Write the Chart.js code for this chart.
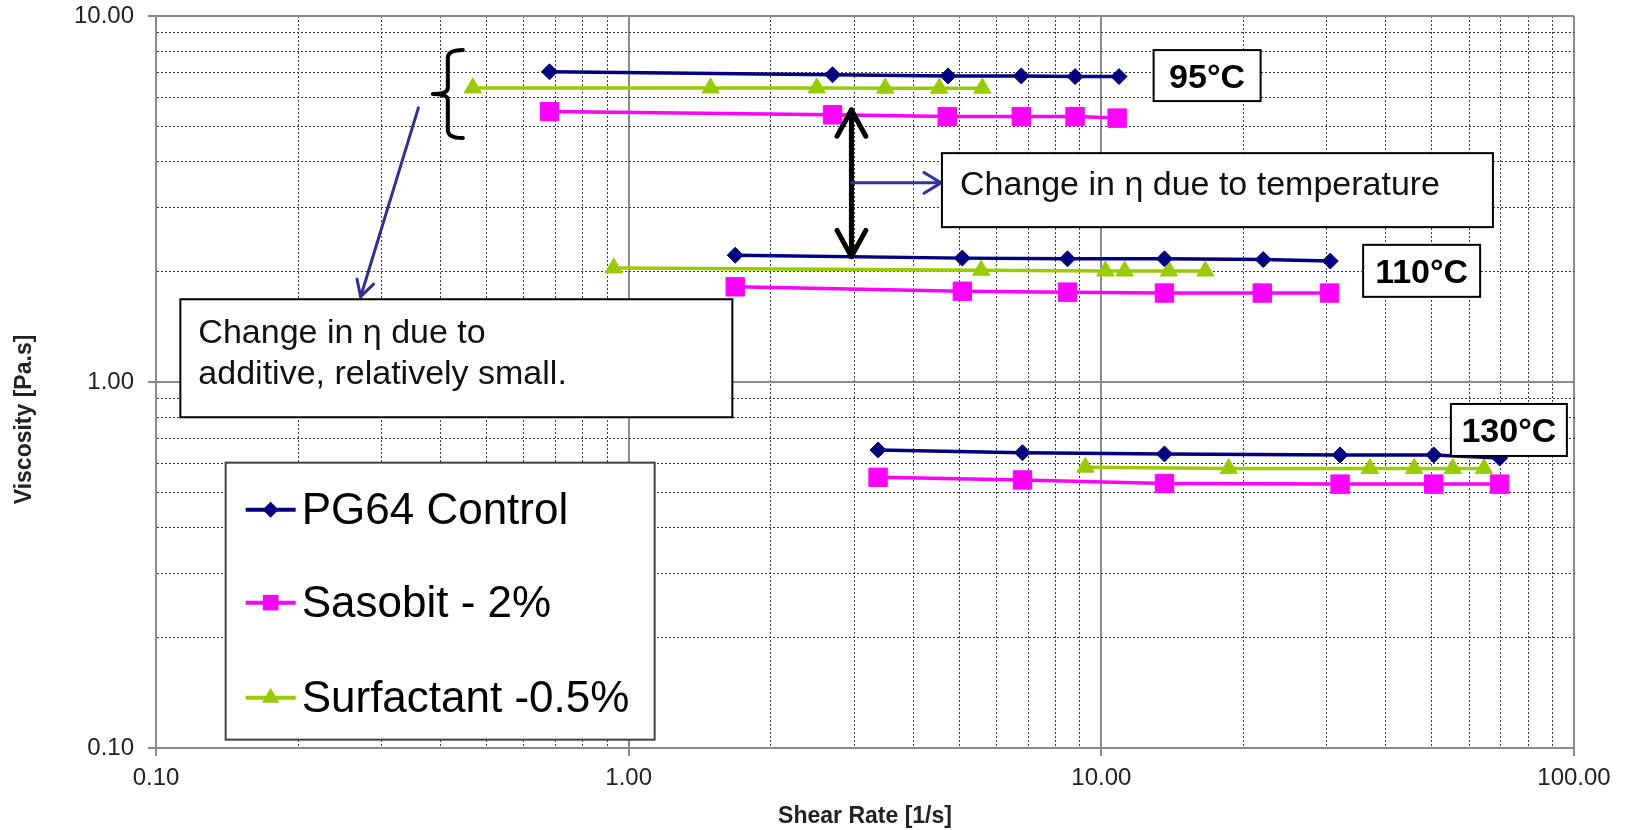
<!DOCTYPE html>
<html>
<head>
<meta charset="utf-8">
<title>Viscosity vs Shear Rate</title>
<script src="https://cdn.jsdelivr.net/npm/chart.js@4.4.1/dist/chart.umd.min.js"></script>
<style>
  html, body { margin: 0; padding: 0; background: #fff; }
  #chart { display: block; }
</style>
</head>
<body>
<canvas id="chart" width="1625" height="830"></canvas>
<script>
// legend names and temperature groups
const seriesNames = ['PG64 Control', 'Sasobit - 2%', 'Surfactant -0.5%'];
const tempLabels = ['95°C', '110°C', '130°C'];

// shear rate [1/s] / viscosity [Pa.s], one inner array per temperature (95, 110, 130 °C)
const pgRate = [
  [0.68, 2.70, 4.74, 6.77, 8.80, 10.9],
  [1.68, 5.08, 8.48, 13.6, 22.0, 30.5],
  [3.37, 6.81, 13.6, 32.0, 50.5, 69.6]
];
const pgVisc = [
  [7.04, 6.91, 6.86, 6.86, 6.83, 6.83],
  [2.22, 2.18, 2.17, 2.17, 2.16, 2.14],
  [0.652, 0.641, 0.636, 0.632, 0.632, 0.620]
];
const sasRate = [
  [0.68, 2.70, 4.72, 6.77, 8.80, 10.8],
  [1.68, 5.08, 8.48, 13.6, 21.9, 30.4],
  [3.37, 6.81, 13.6, 32.0, 50.5, 69.6]
];
const sasVisc = [
  [5.48, 5.37, 5.31, 5.31, 5.31, 5.26],
  [1.82, 1.77, 1.76, 1.75, 1.75, 1.75],
  [0.549, 0.540, 0.528, 0.526, 0.526, 0.526]
];
const surfRate = [
  [0.468, 1.49, 2.50, 3.49, 4.54, 5.60],
  [0.93, 5.57, 10.2, 11.2, 13.9, 16.6],
  [9.25, 18.6, 37.0, 45.9, 55.4, 64.5]
];
const surfVisc = [
  [6.36, 6.36, 6.36, 6.35, 6.35, 6.35],
  [2.05, 2.02, 2.01, 2.01, 2.01, 2.01],
  [0.585, 0.580, 0.580, 0.580, 0.580, 0.580]
];

// axis decades and their labels
const xDecades = [0.1, 1, 10, 100];
const xTickLabels = ['0.10', '1.00', '10.00', '100.00'];
const yDecades = [0.1, 1, 10];
const yTickLabels = ['0.10', '1.00', '10.00'];

const FONT = "'Liberation Sans', Arial, Helvetica, sans-serif";
Chart.defaults.font.family = FONT;

const seriesStyles = [
  { color: '#000080', marker: 'rectRot', radius: 8 },
  { color: '#FF00FF', marker: 'rect', radius: 13 },
  { color: '#99CC00', marker: 'triangle', radius: 10 }
];

function isDecade(tick) {
  if (!tick) return false;
  const l = Math.log10(tick.value);
  return Math.abs(l - Math.round(l)) < 1e-6;
}

// 1..9 per decade, like Excel's log grid
function tickList(decades) {
  const out = [];
  decades.forEach((d, i) => {
    if (i === decades.length - 1) { out.push({ value: d }); return; }
    for (let m = 1; m < 10; m++) out.push({ value: +(d * m).toPrecision(3) });
  });
  return out;
}

function labelFor(decades, labels) {
  return v => {
    const i = decades.findIndex(d => Math.abs(d - v) < d * 1e-6);
    return i < 0 ? '' : labels[i];
  };
}

// join the three temperature runs of a series, with a gap between them
function toPoints(rates, viscs) {
  const pts = [];
  rates.forEach((run, i) => {
    if (i) pts.push({ x: null, y: null });
    run.forEach((r, j) => pts.push({ x: r, y: viscs[i][j] }));
  });
  return pts;
}

const allData = [
  toPoints(pgRate, pgVisc),
  toPoints(sasRate, sasVisc),
  toPoints(surfRate, surfVisc)
];

const datasets = seriesNames.map((name, i) => ({
  label: name,
  data: allData[i],
  borderColor: seriesStyles[i].color,
  backgroundColor: seriesStyles[i].color,
  borderWidth: 3.5,
  pointStyle: seriesStyles[i].marker,
  pointRadius: seriesStyles[i].radius,
  pointHoverRadius: seriesStyles[i].radius,
  pointBorderWidth: 1,
  pointBackgroundColor: seriesStyles[i].color,
  pointBorderColor: seriesStyles[i].color,
  spanGaps: false,
  tension: 0,
  fill: false
}));

// annotation layout: anchors in data units, sizes in px
const tempBoxes = [
  { at: [12.9, 8.07], w: 107, h: 51, base: 38 },
  { at: [35.8, 2.37], w: 117, h: 52, base: 38 },
  { at: [54.9, 0.871], w: 116, h: 52, base: 38 }
];
const noteBoxes = [
  { at: [4.60, 4.22], w: 551, h: 74, lines: ['Change in η due to temperature'], bases: [42] },
  { at: [0.1126, 1.683], w: 552, h: 118, lines: ['Change in η due to', 'additive, relatively small.'], bases: [44, 85] }
];
const legendAt = [0.1404, 0.602];

function head(ctx, tx, ty, ang, len, spread) {
  ctx.beginPath();
  ctx.moveTo(tx - len * Math.cos(ang - spread), ty - len * Math.sin(ang - spread));
  ctx.lineTo(tx, ty);
  ctx.lineTo(tx - len * Math.cos(ang + spread), ty - len * Math.sin(ang + spread));
  ctx.stroke();
}

function arrow(ctx, x1, y1, x2, y2, len, spread, both) {
  ctx.beginPath();
  ctx.moveTo(x1, y1);
  ctx.lineTo(x2, y2);
  ctx.stroke();
  const a = Math.atan2(y2 - y1, x2 - x1);
  head(ctx, x2, y2, a, len, spread);
  if (both) head(ctx, x1, y1, a + Math.PI, len, spread);
}

function marker(ctx, style, x, y, r, color) {
  ctx.fillStyle = color;
  ctx.beginPath();
  if (style === 'rectRot') {
    ctx.moveTo(x - r, y); ctx.lineTo(x, y - r); ctx.lineTo(x + r, y); ctx.lineTo(x, y + r);
  } else if (style === 'rect') {
    const s = r * Math.SQRT1_2;
    ctx.rect(x - s, y - s, 2 * s, 2 * s);
  } else {
    ctx.moveTo(x, y - r);
    ctx.lineTo(x + r * 0.866, y + r / 2);
    ctx.lineTo(x - r * 0.866, y + r / 2);
  }
  ctx.closePath();
  ctx.fill();
}

const notesPlugin = {
  id: 'notes',
  afterDatasetsDraw(chart) {
    const { ctx } = chart;
    const X = v => chart.scales.x.getPixelForValue(v);
    const Y = v => chart.scales.y.getPixelForValue(v);
    ctx.save();
    ctx.lineCap = 'round';
    ctx.lineJoin = 'round';

    // temperature gap arrow
    ctx.strokeStyle = '#000';
    ctx.lineWidth = 5;
    arrow(ctx, X(2.96), Y(5.54), X(2.96), Y(2.20), 30, 0.5, true);
    ctx.strokeStyle = '#333399';
    ctx.lineWidth = 3;
    arrow(ctx, X(2.96), Y(3.50), X(4.58), Y(3.50), 20, 0.55, false);

    // brace on the 95 °C group and its pointer
    const sx = X(0.4144), top = Y(8.07), mid = Y(6.12), bot = Y(4.64);
    ctx.strokeStyle = '#000';
    ctx.lineWidth = 4;
    ctx.beginPath();
    ctx.moveTo(sx + 15, top);
    ctx.quadraticCurveTo(sx, top, sx, top + 8);
    ctx.lineTo(sx, mid - 6);
    ctx.quadraticCurveTo(sx, mid, sx - 15, mid);
    ctx.quadraticCurveTo(sx, mid, sx, mid + 6);
    ctx.lineTo(sx, bot - 8);
    ctx.quadraticCurveTo(sx, bot, sx + 15, bot);
    ctx.stroke();
    ctx.strokeStyle = '#2E3192';
    ctx.lineWidth = 3;
    arrow(ctx, X(0.359), Y(5.61), X(0.271), Y(1.71), 18, 0.5, false);

    // temperature labels
    ctx.lineCap = 'butt';
    ctx.lineJoin = 'miter';
    ctx.textBaseline = 'alphabetic';
    tempBoxes.forEach((b, i) => {
      const bx = X(b.at[0]), by = Y(b.at[1]);
      ctx.fillStyle = '#fff';
      ctx.fillRect(bx, by, b.w, b.h);
      ctx.strokeStyle = '#000';
      ctx.lineWidth = 2;
      ctx.strokeRect(bx, by, b.w, b.h);
      ctx.fillStyle = '#000';
      ctx.font = 'bold 34px ' + FONT;
      ctx.textAlign = 'center';
      ctx.fillText(tempLabels[i], bx + b.w / 2, by + b.base);
    });

    // text notes
    noteBoxes.forEach(b => {
      const bx = X(b.at[0]), by = Y(b.at[1]);
      ctx.fillStyle = '#fff';
      ctx.fillRect(bx, by, b.w, b.h);
      ctx.strokeStyle = '#000';
      ctx.lineWidth = 2;
      ctx.strokeRect(bx, by, b.w, b.h);
      ctx.fillStyle = '#111';
      ctx.font = '34px ' + FONT;
      ctx.textAlign = 'left';
      b.lines.forEach((t, k) => ctx.fillText(t, bx + 18, by + b.bases[k]));
    });

    // legend
    const lx = X(legendAt[0]), ly = Y(legendAt[1]);
    ctx.fillStyle = '#fff';
    ctx.fillRect(lx, ly, 429, 277);
    ctx.strokeStyle = '#404040';
    ctx.lineWidth = 2;
    ctx.strokeRect(lx, ly, 429, 277);
    const rows = [47, 140, 235];
    chart.data.datasets.forEach((ds, i) => {
      const ry = ly + rows[i];
      const st = seriesStyles[i];
      ctx.strokeStyle = st.color;
      ctx.lineWidth = 4;
      ctx.beginPath();
      ctx.moveTo(lx + 20, ry);
      ctx.lineTo(lx + 70, ry);
      ctx.stroke();
      marker(ctx, st.marker, lx + 45, ry, st.marker === 'rect' ? 11 : st.radius, st.color);
      ctx.fillStyle = '#000';
      ctx.font = '44px ' + FONT;
      ctx.textAlign = 'left';
      ctx.textBaseline = 'middle';
      ctx.fillText(ds.label, lx + 76, ry + 2);
    });

    // y axis title
    ctx.save();
    ctx.translate(25, Y(0.79));
    ctx.rotate(-Math.PI / 2);
    ctx.fillStyle = '#222';
    ctx.font = 'bold 23px ' + FONT;
    ctx.textAlign = 'center';
    ctx.textBaseline = 'middle';
    ctx.fillText('Viscosity [Pa.s]', 0, 0);
    ctx.restore();

    ctx.restore();
  }
};

const gridOpts = {
  color: c => isDecade(c.tick) ? '#8a8a8a' : '#3c3c3c',
  lineWidth: c => isDecade(c.tick) ? 2 : 1,
  tickColor: c => isDecade(c.tick) ? '#8a8a8a' : 'rgba(0,0,0,0)',
  tickLength: 8,
  tickWidth: 2
};
const borderOpts = {
  color: '#8a8a8a',
  width: 2,
  dash: c => (c.tick && !isDecade(c.tick)) ? [2, 2] : []
};

// pin the plot area to the reference frame
function noOverhang(s) {
  s.paddingTop = 0; s.paddingBottom = 0;
  s.paddingLeft = 0; s.paddingRight = 0;
}

new Chart(document.getElementById('chart'), {
  type: 'line',
  data: { datasets: datasets },
  options: {
    responsive: false,
    animation: false,
    devicePixelRatio: 1,
    layout: { padding: { top: 16, right: 51, left: 0, bottom: 0 } },
    plugins: {
      legend: { display: false },
      tooltip: { enabled: false }
    },
    scales: {
      x: {
        type: 'logarithmic',
        min: 0.1,
        max: 100,
        afterBuildTicks: s => { s.ticks = tickList(xDecades); },
        afterFit: s => { s.height = 82; noOverhang(s); },
        grid: gridOpts,
        border: borderOpts,
        ticks: {
          autoSkip: false,
          maxRotation: 0,
          padding: 8,
          color: '#222',
          font: { size: 24 },
          callback: labelFor(xDecades, xTickLabels)
        },
        title: {
          display: true,
          text: 'Shear Rate [1/s]',
          color: '#222',
          font: { size: 23, weight: 'bold' },
          padding: { top: 0, bottom: 0 }
        }
      },
      y: {
        type: 'logarithmic',
        min: 0.1,
        max: 10,
        afterBuildTicks: s => { s.ticks = tickList(yDecades); },
        afterFit: s => { s.width = 156; noOverhang(s); },
        grid: gridOpts,
        border: borderOpts,
        ticks: {
          autoSkip: false,
          padding: 14,
          color: '#222',
          font: { size: 24 },
          callback: labelFor(yDecades, yTickLabels)
        }
      }
    }
  },
  plugins: [notesPlugin]
});
</script>
</body>
</html>
